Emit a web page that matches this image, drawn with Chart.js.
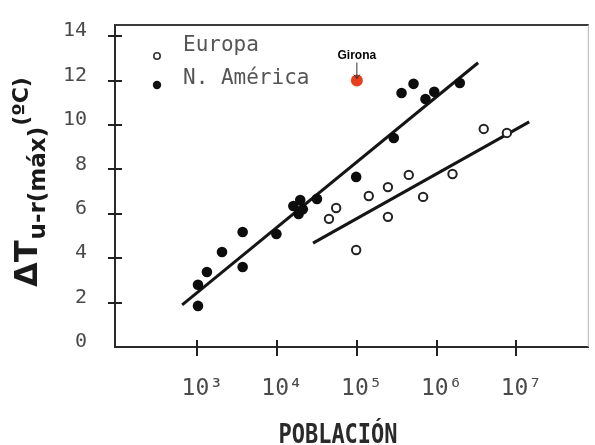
<!DOCTYPE html>
<html><head><meta charset="utf-8">
<script src="https://cdn.jsdelivr.net/npm/chart.js@4.4.0/dist/chart.umd.min.js"></script>
<style>html,body{margin:0;padding:0;background:#fff;}canvas{display:block;}</style>
</head><body>
<canvas id="c" width="595" height="445"></canvas>
<script>
// ---- data ----
const xTicks = [1e3, 1e4, 1e5, 1e6, 1e7];
const xTickLabels = ['10³', '10⁴', '10⁵', '10⁶', '10⁷'];
const yTicks = [0, 2, 4, 6, 8, 10, 12, 14];
const seriesNames = ['Europa', 'N. América'];
const xTitle = 'POBLACIÓN';
const yTitleMain = 'ΔT';
const yTitleSub = 'u-r(máx)';
const yTitleSup = '(ºC)';

const europaX = [44700, 55000, 98000, 141000, 245000, 245000, 447000, 676000, 1580000, 3890000, 7590000];
const europaY = [5.77, 6.26, 4.37, 6.80, 7.20, 5.86, 7.75, 6.76, 7.79, 9.82, 9.64];

const americaX = [1020, 1020, 1320, 2040, 3700, 3700, 9800, 16000, 19500, 18600, 21000, 31600, 98000, 290000, 363000, 513000, 724000, 933000, 1950000];
const americaY = [1.85, 2.80, 3.38, 4.28, 5.18, 3.60, 5.09, 6.35, 6.62, 5.99, 6.20, 6.67, 7.66, 9.41, 11.44, 11.85, 11.17, 11.49, 11.89];

const europaFitX = [28200, 14450000];
const europaFitY = [4.68, 10.14];
const americaFitX = [646, 3310000];
const americaFitY = [1.90, 12.80];

const gironaLabel = 'Girona';
const gironaX = [100000];
const gironaY = [12.0];

// ---- helpers ----
const pts = (xs, ys) => xs.map((x, i) => ({x: x, y: ys[i]}));

const decor = {
  id: 'decor',
  beforeDatasetsDraw(chart) {
    const ctx = chart.ctx, ca = chart.chartArea, xs = chart.scales.x, ys = chart.scales.y;
    ctx.save();
    ctx.lineCap = 'butt';
    // top and right frame
    ctx.strokeStyle = '#3a3a3a'; ctx.lineWidth = 2;
    ctx.beginPath(); ctx.moveTo(ca.left, ca.top); ctx.lineTo(ca.right, ca.top); ctx.stroke();
    ctx.strokeStyle = '#b5b5b5'; ctx.lineWidth = 1;
    ctx.beginPath(); ctx.moveTo(ca.right - 0.5, ca.top); ctx.lineTo(ca.right - 0.5, ca.bottom); ctx.stroke();
    // crossing tick marks
    ctx.strokeStyle = '#222'; ctx.lineWidth = 2;
    yTicks.forEach(v => {
      if (v === 0) return;
      const y = Math.round(ys.getPixelForValue(v));
      ctx.beginPath(); ctx.moveTo(ca.left - 7, y); ctx.lineTo(ca.left + 7, y); ctx.stroke();
    });
    xTicks.forEach(v => {
      const x = Math.round(xs.getPixelForValue(v));
      ctx.beginPath(); ctx.moveTo(x, ca.bottom - 7); ctx.lineTo(x, ca.bottom + 9); ctx.stroke();
    });
    ctx.restore();
  },
  afterDraw(chart) {
    const ctx = chart.ctx, ca = chart.chartArea, xs = chart.scales.x, ys = chart.scales.y;
    ctx.save();
    // legend
    const lx = ca.left + 42;
    ctx.fillStyle = '#fff'; ctx.strokeStyle = '#333'; ctx.lineWidth = 1.6;
    ctx.beginPath(); ctx.arc(lx, ca.top + 31, 3.2, 0, Math.PI * 2); ctx.fill(); ctx.stroke();
    ctx.fillStyle = '#111';
    ctx.beginPath(); ctx.arc(lx, ca.top + 60, 4.2, 0, Math.PI * 2); ctx.fill();
    ctx.fillStyle = '#555';
    ctx.font = '21px "DejaVu Sans Mono"';
    ctx.textAlign = 'left'; ctx.textBaseline = 'middle';
    ctx.fillText(seriesNames[0], ca.left + 68, ca.top + 21);
    ctx.fillText(seriesNames[1], ca.left + 68, ca.top + 54);

    // Girona annotation
    const gx = xs.getPixelForValue(gironaX[0]), gy = ys.getPixelForValue(gironaY[0]);
    ctx.fillStyle = '#000';
    ctx.font = 'bold 12px "Liberation Sans", Arial, sans-serif';
    ctx.textAlign = 'center'; ctx.textBaseline = 'middle';
    ctx.fillText(gironaLabel, gx, gy - 25);
    ctx.strokeStyle = '#333'; ctx.lineWidth = 1;
    ctx.beginPath(); ctx.moveTo(gx, gy - 18); ctx.lineTo(gx, gy - 2); ctx.stroke();
    ctx.beginPath(); ctx.moveTo(gx - 3, gy - 6); ctx.lineTo(gx, gy - 2); ctx.lineTo(gx + 3, gy - 6); ctx.stroke();

    // y-axis title (rotated)
    ctx.save();
    ctx.rotate(-Math.PI / 2);
    ctx.fillStyle = '#1a1a1a';
    ctx.textAlign = 'left'; ctx.textBaseline = 'alphabetic';
    let u = -287;
    ctx.font = 'bold 32px "DejaVu Sans"';
    ctx.fillText(yTitleMain, u, 37);
    u += ctx.measureText(yTitleMain).width + 1;
    ctx.font = 'bold 23px "DejaVu Sans"';
    ctx.fillText(yTitleSub, u, 45);
    u += ctx.measureText(yTitleSub).width + 1;
    ctx.font = 'bold 22px "DejaVu Sans"';
    ctx.fillText(yTitleSup, u, 28);
    ctx.restore();

    // x-axis title
    ctx.save();
    ctx.fillStyle = '#2a2a2a';
    ctx.font = 'bold 22px "DejaVu Sans Mono"';
    ctx.textAlign = 'center'; ctx.textBaseline = 'alphabetic';
    ctx.translate(338, 443);
    ctx.scale(1, 1.2);
    ctx.fillText(xTitle, 0, 0);
    ctx.restore();
    ctx.restore();
  }
};

new Chart(document.getElementById('c'), {
  type: 'scatter',
  data: {
    datasets: [
      { label: 'Girona', data: pts(gironaX, gironaY), pointRadius: 6, pointBackgroundColor: '#e8401c', pointBorderColor: '#e8401c', pointBorderWidth: 0, order: 0 },
      { label: seriesNames[0], data: pts(europaX, europaY), pointRadius: 4.2, pointBackgroundColor: '#fff', pointBorderColor: '#222', pointBorderWidth: 2, order: 1 },
      { label: seriesNames[1], data: pts(americaX, americaY), pointRadius: 5.3, pointBackgroundColor: '#0d0d0d', pointBorderColor: '#0d0d0d', pointBorderWidth: 0, order: 1 },
      { label: 'fit Europa', data: pts(europaFitX, europaFitY), showLine: true, pointRadius: 0, borderColor: '#151515', borderWidth: 3, order: 2 },
      { label: 'fit N. América', data: pts(americaFitX, americaFitY), showLine: true, pointRadius: 0, borderColor: '#151515', borderWidth: 3, order: 2 }
    ]
  },
  options: {
    responsive: false,
    animation: false,
    devicePixelRatio: 1,
    layout: { padding: { top: 25, right: 2, left: 0, bottom: 0 } },
    plugins: { legend: { display: false }, tooltip: { enabled: false } },
    scales: {
      x: {
        type: 'logarithmic',
        min: 93, max: 80700000,
        afterFit: s => { s.height = 98; s.paddingLeft = 0; s.paddingRight = 0; },
        afterBuildTicks: s => { s.ticks = xTicks.map(v => ({ value: v })); },
        grid: { display: false, drawTicks: false },
        border: { display: true, color: '#2a2a2a', width: 2 },
        ticks: {
          autoSkip: false, maxRotation: 0,
          padding: 28, labelOffset: 5,
          color: '#4a4a4a',
          font: { family: '"DejaVu Sans Mono"', size: 23 },
          callback: (v) => { const i = xTicks.indexOf(v); return i >= 0 ? xTickLabels[i] : ''; }
        }
      },
      y: {
        min: 0, max: 14.5,
        afterFit: s => { s.width = 115; s.paddingTop = 0; s.paddingBottom = 0; },
        afterBuildTicks: s => { s.ticks = yTicks.map(v => ({ value: v })); },
        grid: { display: false, drawTicks: false },
        border: { display: true, color: '#2a2a2a', width: 2 },
        ticks: {
          autoSkip: false, padding: 28, labelOffset: -5,
          color: '#4a4a4a',
          font: { family: '"DejaVu Sans Mono"', size: 20 }
        }
      }
    }
  },
  plugins: [decor]
});
</script>
</body></html>
